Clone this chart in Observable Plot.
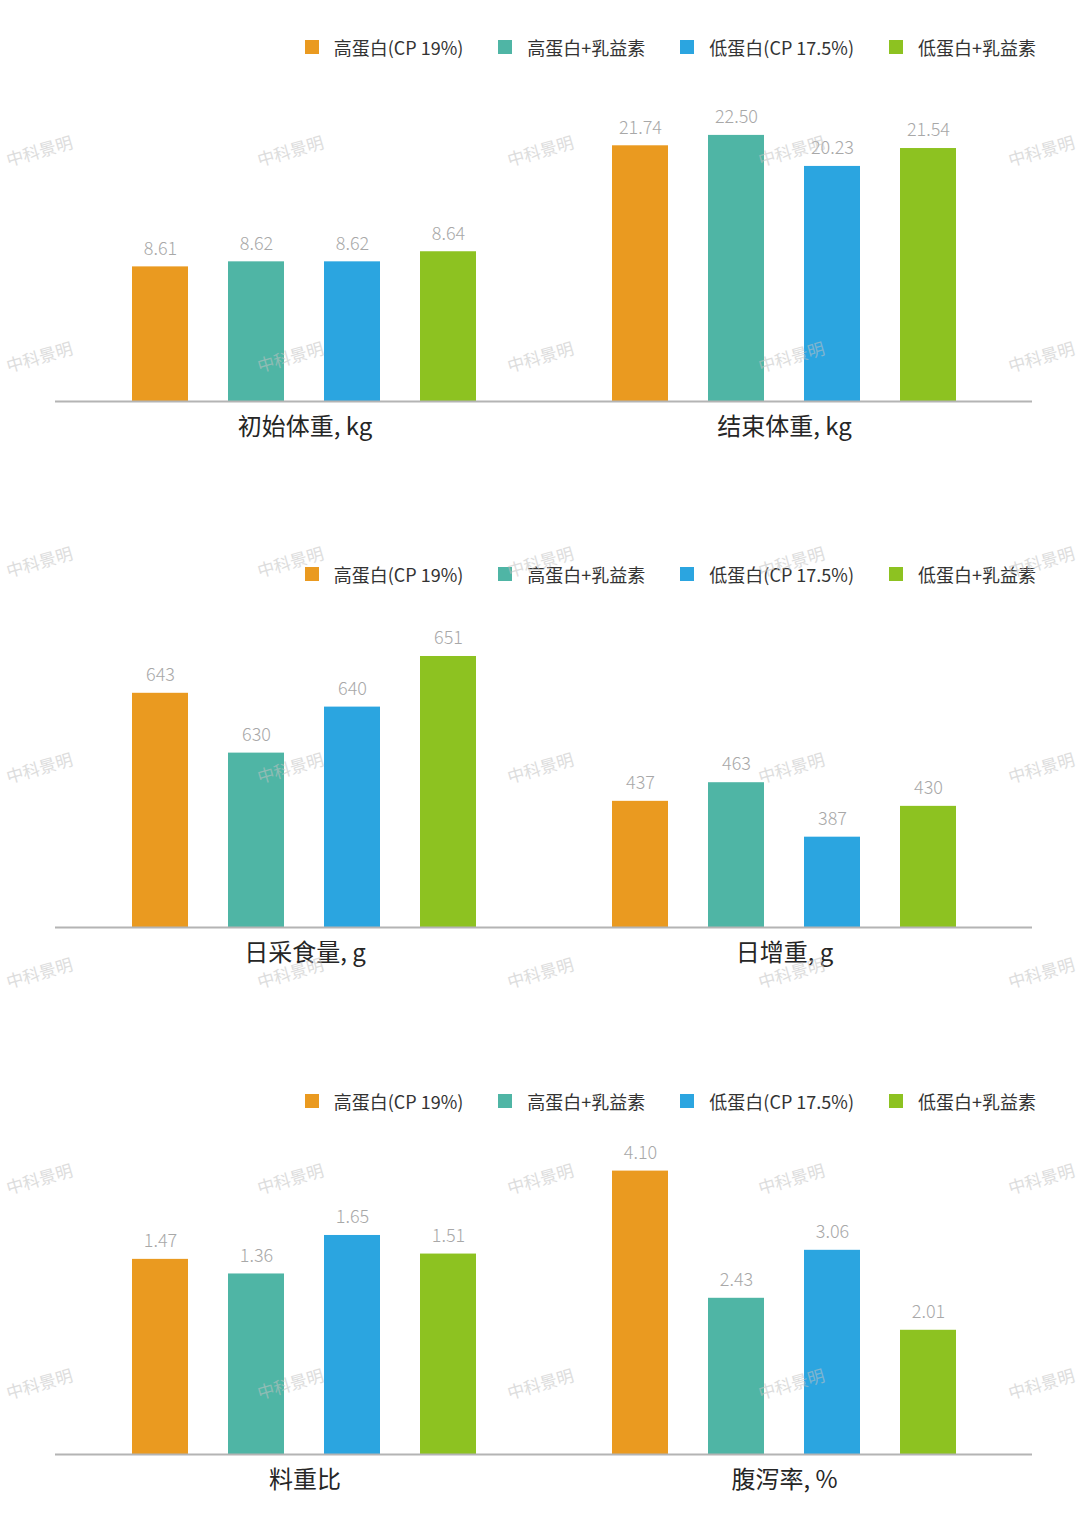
<!DOCTYPE html>
<html>
<head>
<meta charset="utf-8">
<script src="https://cdn.jsdelivr.net/npm/d3@7"></script>
<script src="https://cdn.jsdelivr.net/npm/@observablehq/plot@0.6"></script>
<style>
html,body{margin:0;padding:0;background:#fff;overflow:hidden}
#page{position:relative;width:1080px;height:1536px;font-family:'Noto Sans CJK SC','Noto Sans',sans-serif;background:#fff}
.legend{position:absolute;right:44px;height:22px;display:flex;align-items:center;gap:35px;font-size:18px;color:#333;line-height:22px}
.item{display:flex;align-items:center;white-space:nowrap}
.sw{width:14px;height:14px;margin-right:15px}
.row{position:absolute;left:0;width:1080px;display:flex}
.wm{position:absolute;font-size:17px;color:#c2c2c2;opacity:.55;transform:translate(-50%,-50%) rotate(-16deg);white-space:nowrap;pointer-events:none}
</style>
</head>
<body>
<div id="page"></div>
<script>
// ---- data ----
const treatments = ["高蛋白(CP 19%)", "高蛋白+乳益素", "低蛋白(CP 17.5%)", "低蛋白+乳益素"];
const colors = ["#EA9A20", "#4FB5A5", "#2BA5E0", "#8DC221"];
const metricLabels = ["初始体重, kg", "结束体重, kg", "日采食量, g", "日增重, g", "料重比", "腹泻率, %"];
const initialWeight = [8.61, 8.62, 8.62, 8.64];
const finalWeight = [21.74, 22.50, 20.23, 21.54];
const dailyFeedIntake = [643, 630, 640, 651];
const dailyGain = [437, 463, 387, 430];
const feedGainRatio = [1.47, 1.36, 1.65, 1.51];
const diarrheaRate = [4.10, 2.43, 3.06, 2.01];
const watermarkText = "中科景明";

// per-metric value formatting (decimals) and y-scale domains (each metric has its own axis)
const groups = [
  {label: metricLabels[0], values: initialWeight,   decimals: 2, domain: [8.343, 8.938]},
  {label: metricLabels[1], values: finalWeight,     decimals: 2, domain: [3.035, 24.98]},
  {label: metricLabels[2], values: dailyFeedIntake, decimals: 0, domain: [592.1, 657.3]},
  {label: metricLabels[3], values: dailyGain,       decimals: 0, domain: [260.95, 679.6]},
  {label: metricLabels[4], values: feedGainRatio,   decimals: 2, domain: [0, 2.26]},
  {label: metricLabels[5], values: diarrheaRate,    decimals: 2, domain: [0.379, 4.318]}
];

const FONT = "'Noto Sans CJK SC','Noto Sans',sans-serif";
const page = document.getElementById("page");

function groupPlot(g, side) {
  const data = treatments.map((t, i) => ({t, v: g.values[i]}));
  const left = side === 0;
  const lo = g.domain[0];
  return Plot.plot({
    width: 540,
    height: 380,
    marginLeft: left ? 55 : 0,
    marginRight: left ? 0 : 48,
    marginTop: 0,
    marginBottom: 60,
    style: {fontFamily: FONT, background: "transparent", overflow: "visible"},
    x: {type: "band", domain: treatments, range: left ? [112, 496] : [52, 436],
        paddingInner: 40 / 96, paddingOuter: 20 / 96, axis: null},
    y: {domain: g.domain, range: [320, 20], axis: null},
    color: {domain: treatments, range: colors},
    marks: [
      Plot.barY(data, {x: "t", y1: lo, y2: "v", fill: "t"}),
      Plot.ruleY([lo], {stroke: "#b4b4b4", strokeWidth: 2}),
      Plot.text(data, {x: "t", y: "v", text: d => d.v.toFixed(g.decimals), dy: -18,
                       fill: "#a8a8a8", fontSize: 18, fontWeight: 300}),
      Plot.text([g.label], {frameAnchor: "bottom", text: d => d, dy: 33, dx: left ? 7 : -2,
                            fontSize: 24, fontWeight: 400, fill: "#262626"})
    ]
  });
}

const panelLegendTop = [36, 563, 1090];
const panelBaseline = [401, 927, 1454];

for (let p = 0; p < 3; p++) {
  // legend
  const lg = document.createElement("div");
  lg.className = "legend";
  lg.style.top = panelLegendTop[p] + "px";
  treatments.forEach((t, i) => {
    const it = document.createElement("div");
    it.className = "item";
    const sw = document.createElement("span");
    sw.className = "sw";
    sw.style.background = colors[i];
    const tx = document.createElement("span");
    tx.textContent = t;
    it.appendChild(sw);
    it.appendChild(tx);
    lg.appendChild(it);
  });
  page.appendChild(lg);

  // chart row: two metrics side by side
  const row = document.createElement("div");
  row.className = "row";
  row.style.top = (panelBaseline[p] - 320) + "px";
  row.appendChild(groupPlot(groups[2 * p], 0));
  row.appendChild(groupPlot(groups[2 * p + 1], 1));
  page.appendChild(row);
}

// watermark layer
for (let r = 0; r < 7; r++) {
  for (let c = 0; c < 5; c++) {
    const w = document.createElement("div");
    w.className = "wm";
    w.textContent = watermarkText;
    w.style.left = (39 + 250.5 * c) + "px";
    w.style.top = (150 + 205.5 * r) + "px";
    page.appendChild(w);
  }
}
</script>
</body>
</html>
